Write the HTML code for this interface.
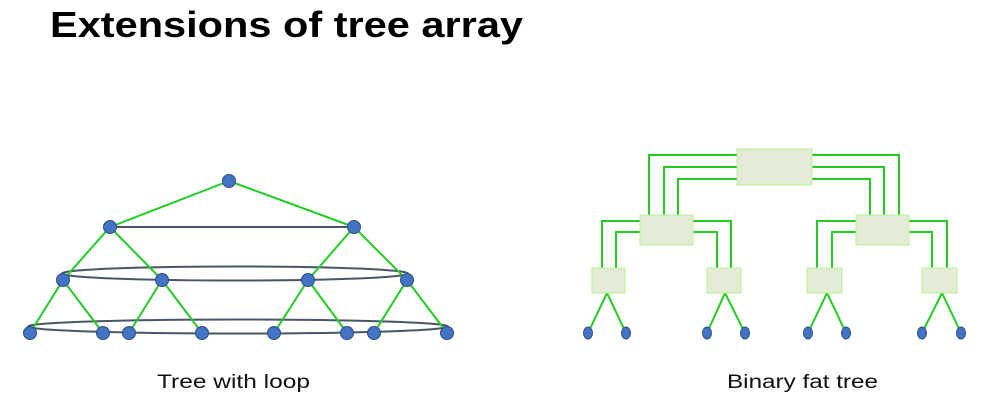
<!DOCTYPE html>
<html><head><meta charset="utf-8"><style>
html,body{margin:0;padding:0;background:#fff;}
svg{display:block;}
</style></head><body>
<svg width="987" height="404" viewBox="0 0 987 404" xmlns="http://www.w3.org/2000/svg">
<text x="50" y="37" font-family="Liberation Sans, sans-serif" font-weight="bold" font-size="36" textLength="473" lengthAdjust="spacingAndGlyphs" fill="#000">Extensions of tree array</text>

<g stroke="#4a5568" stroke-width="2" fill="none">
<line x1="110" y1="227" x2="354" y2="227"/>
<ellipse cx="235" cy="273.5" rx="173" ry="7"/>
<ellipse cx="238" cy="326.5" rx="210" ry="7"/>
</g>
<g stroke="#22cc22" stroke-width="2">
<line x1="229" y1="181" x2="110" y2="227"/><line x1="229" y1="181" x2="354" y2="227"/>
<line x1="110" y1="227" x2="63" y2="280"/><line x1="110" y1="227" x2="162" y2="280"/>
<line x1="354" y1="227" x2="308" y2="280"/><line x1="354" y1="227" x2="407" y2="280"/>
<line x1="63" y1="280" x2="30" y2="333"/><line x1="63" y1="280" x2="103" y2="333"/>
<line x1="162" y1="280" x2="129" y2="333"/><line x1="162" y1="280" x2="202" y2="333"/>
<line x1="308" y1="280" x2="274" y2="333"/><line x1="308" y1="280" x2="347" y2="333"/>
<line x1="407" y1="280" x2="374" y2="333"/><line x1="407" y1="280" x2="447" y2="333"/>
</g>
<g fill="#4472c4" stroke="#2f4f80" stroke-width="1">
<circle cx="229" cy="181" r="6.5"/>
<circle cx="110" cy="227" r="6.5"/><circle cx="354" cy="227" r="6.5"/>
<circle cx="63" cy="280" r="6.5"/><circle cx="162" cy="280" r="6.5"/><circle cx="308" cy="280" r="6.5"/><circle cx="407" cy="280" r="6.5"/>
<circle cx="30" cy="333" r="6.5"/><circle cx="103" cy="333" r="6.5"/><circle cx="129" cy="333" r="6.5"/><circle cx="202" cy="333" r="6.5"/>
<circle cx="274" cy="333" r="6.5"/><circle cx="347" cy="333" r="6.5"/><circle cx="374" cy="333" r="6.5"/><circle cx="447" cy="333" r="6.5"/>
</g>
<text x="157" y="388" font-family="Liberation Sans, sans-serif" font-size="19" textLength="153" lengthAdjust="spacingAndGlyphs" fill="#111">Tree with loop</text>

<g stroke="#22cc22" stroke-width="2" fill="none">
<polyline points="737,155 649,155 649,215"/><polyline points="737,167 664,167 664,215"/><polyline points="737,179 678,179 678,215"/>
<polyline points="812,155 899,155 899,215"/><polyline points="812,167 884,167 884,215"/><polyline points="812,179 870,179 870,215"/>
<polyline points="640,221 602,221 602,268"/><polyline points="640,232 616,232 616,268"/>
<polyline points="693,221 731,221 731,268"/><polyline points="693,232 717,232 717,268"/>
<polyline points="856,221 817,221 817,268"/><polyline points="856,232 832,232 832,268"/>
<polyline points="909,221 947,221 947,268"/><polyline points="909,232 932,232 932,268"/>
<polyline points="588,333 607,293 626,333"/>
<polyline points="707,333 725,293 745,333"/>
<polyline points="808,333 827,293 846,333"/>
<polyline points="922,333 942,293 961,333"/>
</g>
<g fill="#e4ecd8" stroke="#b8f090" stroke-width="1">
<rect x="737" y="149" width="75" height="36"/>
<rect x="640" y="215" width="53" height="30"/>
<rect x="856" y="215" width="53" height="30"/>
<rect x="592" y="268" width="33" height="25"/>
<rect x="707" y="268" width="34" height="25"/>
<rect x="807" y="268" width="35" height="25"/>
<rect x="922" y="268" width="35" height="25"/>
</g>
<g fill="#4472c4" stroke="#2f4f80" stroke-width="1">
<ellipse cx="588" cy="333" rx="4.5" ry="6"/><ellipse cx="626" cy="333" rx="4.5" ry="6"/>
<ellipse cx="707" cy="333" rx="4.5" ry="6"/><ellipse cx="745" cy="333" rx="4.5" ry="6"/>
<ellipse cx="808" cy="333" rx="4.5" ry="6"/><ellipse cx="846" cy="333" rx="4.5" ry="6"/>
<ellipse cx="922" cy="333" rx="4.5" ry="6"/><ellipse cx="961" cy="333" rx="4.5" ry="6"/>
</g>
<text x="727" y="388" font-family="Liberation Sans, sans-serif" font-size="19" textLength="151" lengthAdjust="spacingAndGlyphs" fill="#111">Binary fat tree</text>
</svg>
</body></html>
